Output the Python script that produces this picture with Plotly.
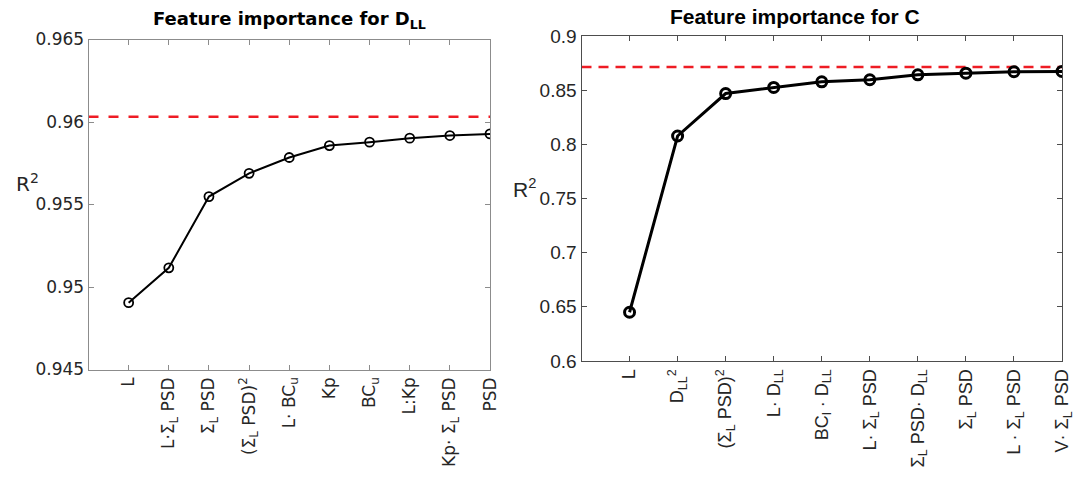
import plotly.graph_objects as go

W, H = 1088, 490

# ---- data ----
left_labels = ["L", "L·Σ<sub>L</sub> PSD", "Σ<sub>L</sub> PSD", "(Σ<sub>L</sub> PSD)<sup>2</sup>",
               "L· BC<sub>u</sub>", "Kp", "BC<sub>u</sub>", "L:Kp", "Kp· Σ<sub>L</sub> PSD", "PSD"]
left_r2 = [0.94905, 0.95116, 0.95548, 0.95689, 0.95785, 0.95857, 0.95878, 0.95902, 0.95918, 0.95928]
left_ref = 0.96032

right_labels = ["L", "D<sub>LL</sub><sup>2</sup>", "(Σ<sub>L</sub> PSD)<sup>2</sup>", "L· D<sub>LL</sub>",
                "BC<sub>l</sub> · D<sub>LL</sub>", "L· Σ<sub>L</sub> PSD", "Σ<sub>L</sub> PSD· D<sub>LL</sub>",
                "Σ<sub>L</sub> PSD", "L · Σ<sub>L</sub> PSD", "V· Σ<sub>L</sub> PSD"]
right_r2 = [0.645, 0.8077, 0.8469, 0.8525, 0.8577, 0.8596, 0.8642, 0.8657, 0.8670, 0.8673]
right_ref = 0.8715

left_yticks = [0.945, 0.95, 0.955, 0.96, 0.965]
left_yticktext = ["0.945", "0.95", "0.955", "0.96", "0.965"]
right_yticks = [0.6, 0.65, 0.7, 0.75, 0.8, 0.85, 0.9]
right_yticktext = ["0.6", "0.65", "0.7", "0.75", "0.8", "0.85", "0.9"]

xpos = list(range(1, 11))

def px_x(p):
    return p / W

def px_y(p):
    return 1 - p / H

fig = go.Figure()

# left
fig.add_trace(go.Scatter(x=[0, 10], y=[left_ref, left_ref], mode="lines",
                         line=dict(color="#ee1c24", width=2.5, dash="10px,10px"),
                         xaxis="x", yaxis="y", showlegend=False, hoverinfo="skip"))
fig.add_trace(go.Scatter(x=xpos, y=left_r2, mode="lines+markers",
                         line=dict(color="black", width=2),
                         marker=dict(symbol="circle-open", size=9, color="black", line=dict(width=1.8)),
                         xaxis="x", yaxis="y", showlegend=False))
# right
fig.add_trace(go.Scatter(x=[0, 10], y=[right_ref, right_ref], mode="lines",
                         line=dict(color="#ee1c24", width=2.5, dash="10px,7px"),
                         xaxis="x2", yaxis="y2", showlegend=False, hoverinfo="skip"))
fig.add_trace(go.Scatter(x=xpos, y=right_r2, mode="lines+markers",
                         line=dict(color="black", width=3),
                         marker=dict(symbol="circle-open", size=10, color="black", line=dict(width=3)),
                         xaxis="x2", yaxis="y2", showlegend=False))

lfont = dict(family="DejaVu Sans", size=17, color="#262626")
rfont = dict(family="Liberation Sans", size=18, color="#262626")

common = dict(showgrid=False, zeroline=False, showline=True, mirror="ticks",
              ticks="inside", ticklen=5, automargin=False)

fig.update_layout(
    width=W, height=H, autosize=False,
    margin=dict(l=0, r=0, t=0, b=0, pad=0, autoexpand=False),
    showlegend=False,
    plot_bgcolor="white", paper_bgcolor="white",
    xaxis=dict(domain=[px_x(88.5), px_x(490)], range=[0, 10], anchor="y",
               tickvals=xpos, ticktext=left_labels, tickangle=-90, tickfont=lfont,
               linecolor="#8c8c8c", tickcolor="#8c8c8c", linewidth=1, **common),
    yaxis=dict(domain=[px_y(369.5), px_y(39.5)], range=[0.945, 0.965], anchor="x",
               tickvals=left_yticks, ticktext=left_yticktext, tickfont=dict(family="DejaVu Sans", size=17, color="#262626"),
               linecolor="#8c8c8c", tickcolor="#8c8c8c", linewidth=1, **common),
    xaxis2=dict(domain=[px_x(581.5), px_x(1062)], range=[0, 10], anchor="y2",
                tickvals=xpos, ticktext=right_labels, tickangle=-90, tickfont=rfont,
                linecolor="#4d4d4d", tickcolor="#4d4d4d", linewidth=1.2, **common),
    yaxis2=dict(domain=[px_y(361), px_y(36)], range=[0.6, 0.9], anchor="x2",
                tickvals=right_yticks, ticktext=right_yticktext, tickfont=dict(family="Liberation Sans", size=19, color="#262626"),
                linecolor="#4d4d4d", tickcolor="#4d4d4d", linewidth=1.2, **common),
    annotations=[
        dict(text="<b>Feature importance for D<sub>LL</sub></b>", x=px_x(289), y=px_y(34),
             xref="paper", yref="paper", xanchor="center", yanchor="bottom", showarrow=False,
             font=dict(family="DejaVu Sans", size=18, color="black")),
        dict(text="<b>Feature importance for C</b>", x=px_x(795), y=px_y(30),
             xref="paper", yref="paper", xanchor="center", yanchor="bottom", showarrow=False,
             font=dict(family="Liberation Sans", size=21, color="black")),
        dict(text="R<sup>2</sup>", x=px_x(27), y=px_y(183), xref="paper", yref="paper",
             xanchor="center", yanchor="middle", showarrow=False,
             font=dict(family="DejaVu Sans", size=20, color="#262626")),
        dict(text="R<sup>2</sup>", x=px_x(524), y=px_y(188), xref="paper", yref="paper",
             xanchor="center", yanchor="middle", showarrow=False,
             font=dict(family="Liberation Sans", size=21, color="#262626")),
    ],
)

fig.write_html("out.html")
